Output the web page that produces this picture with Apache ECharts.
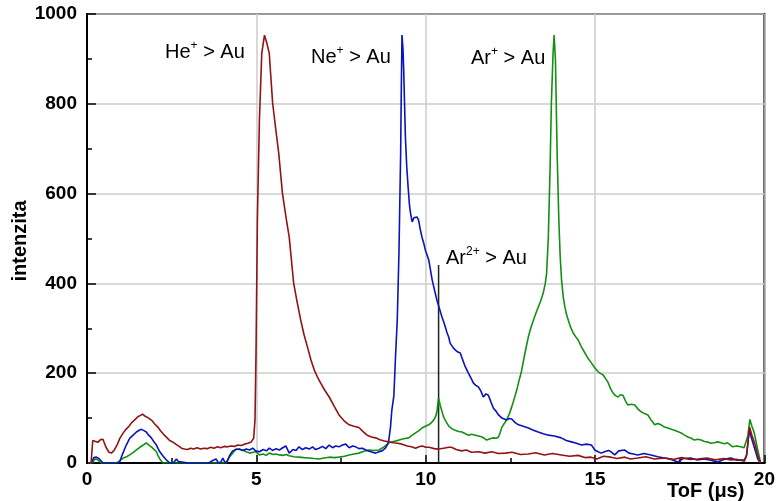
<!DOCTYPE html>
<html>
<head>
<meta charset="utf-8">
<script src="https://cdn.jsdelivr.net/npm/echarts@6/dist/echarts.min.js"></script>
<style>
  html, body { margin: 0; padding: 0; background: #fff; }
  #chart { width: 778px; height: 501px; }
</style>
</head>
<body>
<div id="chart"></div>
<script>
// Time-of-flight spectra: [ToF in µs, intensity]
const heliumOnGold = [[0.03,0],[0.12,0],[0.17,50],[0.25,48],[0.32,46],[0.4,52],[0.47,53],[0.56,35],[0.65,24],[0.72,22],[0.8,28],[0.9,42],[0.97,55],[1.06,66],[1.15,75],[1.24,82],[1.32,90],[1.41,96],[1.5,103],[1.58,106],[1.64,109],[1.72,104],[1.8,101],[1.91,95],[2.0,87],[2.09,80],[2.17,72],[2.26,64],[2.35,57],[2.44,50],[2.53,47],[2.62,42],[2.7,38],[2.79,33],[2.88,31],[2.97,30],[3.06,33],[3.15,31],[3.25,34],[3.35,31],[3.45,33],[3.55,32],[3.65,35],[3.75,33],[3.85,36],[3.95,34],[4.05,37],[4.15,36],[4.25,38],[4.35,37],[4.45,40],[4.55,39],[4.65,42],[4.75,44],[4.85,47],[4.92,55],[4.96,96],[4.99,245],[5.03,541],[5.09,764],[5.16,913],[5.24,953],[5.31,935],[5.38,913],[5.48,802],[5.57,745],[5.66,690],[5.77,601],[5.87,550],[5.97,503],[6.1,401],[6.2,360],[6.31,318],[6.41,285],[6.51,258],[6.61,230],[6.71,207],[6.8,192],[6.9,178],[7.02,162],[7.15,147],[7.3,126],[7.44,107],[7.59,94],[7.74,85],[7.88,82],[8.03,79],[8.15,70],[8.27,62],[8.4,58],[8.52,56],[8.65,52],[8.78,49],[8.91,47],[9.05,45],[9.17,44],[9.3,42],[9.45,38],[9.58,36],[9.7,33],[9.8,36],[9.9,38],[10.0,35],[10.1,35],[10.25,32],[10.38,31],[10.53,33],[10.68,35],[10.76,35],[10.9,30],[11.06,27],[11.2,29],[11.35,24],[11.56,25],[11.75,22],[11.95,25],[12.15,21],[12.35,22],[12.55,24],[12.8,19],[13.03,20],[13.25,23],[13.5,18],[13.75,21],[14.0,18],[14.25,15],[14.5,17],[14.7,12],[14.88,13],[15.05,9],[15.25,15],[15.47,13],[15.65,10],[15.88,13],[16.05,9],[16.26,11],[16.5,14],[16.75,9],[17.06,11],[17.3,8],[17.55,12],[17.8,8],[18.03,9],[18.3,11],[18.55,7],[18.8,10],[19.0,7],[19.2,8],[19.41,4],[19.48,20],[19.56,80],[19.63,62],[19.7,47],[19.8,18],[19.88,0]];

const neonOnGold = [[0.03,0],[0.13,0],[0.2,12],[0.28,13],[0.35,10],[0.38,7],[0.47,0],[0.6,0],[0.8,0],[0.95,0],[1.0,10],[1.06,22],[1.16,40],[1.26,55],[1.36,62],[1.46,69],[1.54,73],[1.61,75],[1.68,72],[1.75,69],[1.82,62],[1.9,56],[1.97,48],[2.05,40],[2.1,32],[2.15,25],[2.25,15],[2.34,7],[2.45,0],[2.55,0],[2.64,9],[2.7,3],[2.74,0],[3.0,0],[3.3,0],[3.6,0],[3.7,5],[3.81,9],[3.88,0],[3.95,2],[4.01,11],[4.08,0],[4.15,5],[4.22,18],[4.3,27],[4.4,30],[4.5,31],[4.6,28],[4.7,31],[4.8,29],[4.89,33],[4.98,27],[5.09,25],[5.2,30],[5.3,27],[5.38,33],[5.48,28],[5.58,32],[5.68,29],[5.78,34],[5.87,38],[5.97,22],[6.08,30],[6.17,28],[6.26,36],[6.36,30],[6.46,34],[6.56,31],[6.66,36],[6.75,30],[6.85,33],[6.95,37],[7.05,32],[7.15,40],[7.25,34],[7.34,38],[7.44,36],[7.54,40],[7.64,42],[7.74,34],[7.84,38],[7.93,36],[8.03,32],[8.13,33],[8.23,29],[8.33,26],[8.43,24],[8.52,22],[8.62,25],[8.71,27],[8.81,33],[8.88,42],[8.91,51],[8.96,80],[9.0,118],[9.06,150],[9.11,240],[9.16,318],[9.21,468],[9.26,690],[9.28,837],[9.3,953],[9.33,920],[9.35,875],[9.4,726],[9.44,660],[9.48,615],[9.52,575],[9.55,557],[9.6,537],[9.65,546],[9.7,550],[9.74,548],[9.79,541],[9.84,520],[9.89,503],[9.94,490],[9.99,474],[10.04,463],[10.09,452],[10.14,430],[10.19,408],[10.26,385],[10.33,363],[10.4,345],[10.48,325],[10.55,310],[10.63,290],[10.68,280],[10.72,267],[10.8,258],[10.87,252],[10.95,247],[11.02,245],[11.1,228],[11.17,214],[11.26,200],[11.33,190],[11.41,178],[11.48,173],[11.56,169],[11.63,160],[11.7,147],[11.78,154],[11.85,151],[11.93,135],[12.0,122],[12.08,115],[12.15,107],[12.25,100],[12.39,96],[12.47,99],[12.54,98],[12.64,90],[12.74,85],[12.88,82],[13.03,78],[13.18,73],[13.32,69],[13.47,65],[13.62,62],[13.8,60],[14.0,56],[14.15,50],[14.3,47],[14.45,44],[14.6,40],[14.75,42],[14.89,40],[14.95,34],[14.99,29],[15.09,25],[15.18,22],[15.28,25],[15.4,28],[15.47,25],[15.58,18],[15.7,27],[15.87,29],[16.0,22],[16.13,20],[16.26,18],[16.45,21],[16.65,18],[16.85,14],[17.05,11],[17.25,8],[17.44,2],[17.6,10],[17.82,11],[18.0,7],[18.23,9],[18.42,6],[18.62,2],[18.8,8],[19.0,11],[19.2,6],[19.4,7],[19.47,15],[19.55,73],[19.62,55],[19.7,35],[19.8,10],[19.88,0]];

const argonOnGold = [[0.03,0],[0.15,0],[0.24,9],[0.3,8],[0.34,7],[0.42,0],[0.5,0],[0.7,0],[0.87,0],[0.95,4],[1.07,11],[1.17,14],[1.26,18],[1.36,23],[1.46,29],[1.56,35],[1.66,40],[1.75,45],[1.83,40],[1.9,36],[1.97,31],[2.05,25],[2.1,16],[2.15,9],[2.24,0],[2.5,0],[3.0,0],[3.5,0],[3.9,0],[4.1,0],[4.2,13],[4.3,22],[4.4,31],[4.5,30],[4.6,29],[4.7,25],[4.8,22],[4.9,24],[4.99,25],[5.09,18],[5.2,20],[5.29,17],[5.38,22],[5.5,19],[5.58,20],[5.68,18],[5.78,17],[5.88,19],[5.97,16],[6.1,14],[6.26,13],[6.4,12],[6.56,11],[6.7,10],[6.85,9],[7.0,11],[7.15,13],[7.3,12],[7.44,13],[7.6,15],[7.74,18],[7.88,20],[8.03,22],[8.18,26],[8.32,29],[8.47,28],[8.62,29],[8.77,36],[8.91,45],[9.05,48],[9.21,51],[9.35,54],[9.5,56],[9.6,62],[9.7,67],[9.8,72],[9.89,78],[9.99,82],[10.09,85],[10.17,90],[10.24,96],[10.3,105],[10.33,114],[10.38,145],[10.43,128],[10.48,115],[10.53,102],[10.6,92],[10.68,82],[10.78,76],[10.87,73],[10.97,70],[11.07,69],[11.17,65],[11.26,62],[11.36,64],[11.46,62],[11.56,60],[11.66,58],[11.73,55],[11.8,51],[11.9,54],[12.0,56],[12.08,55],[12.15,58],[12.2,68],[12.25,80],[12.32,88],[12.39,96],[12.47,110],[12.54,125],[12.62,145],[12.69,163],[12.76,185],[12.83,205],[12.93,245],[13.03,281],[13.1,300],[13.18,318],[13.25,333],[13.32,347],[13.4,362],[13.47,379],[13.53,400],[13.57,423],[13.62,503],[13.67,653],[13.71,802],[13.76,913],[13.79,953],[13.83,898],[13.88,690],[13.93,541],[13.97,460],[14.01,408],[14.06,370],[14.11,347],[14.16,330],[14.21,318],[14.28,302],[14.35,290],[14.42,282],[14.5,274],[14.6,258],[14.7,245],[14.8,232],[14.89,223],[14.99,212],[15.09,203],[15.17,199],[15.24,196],[15.31,188],[15.38,180],[15.46,165],[15.53,156],[15.6,150],[15.68,147],[15.75,152],[15.82,151],[15.9,138],[15.97,129],[16.07,131],[16.17,129],[16.27,120],[16.36,114],[16.46,110],[16.56,107],[16.66,95],[16.76,85],[16.85,88],[16.95,85],[17.05,80],[17.15,78],[17.25,75],[17.34,73],[17.44,70],[17.54,67],[17.64,62],[17.74,58],[17.84,55],[17.93,51],[18.03,53],[18.13,51],[18.23,48],[18.32,47],[18.42,44],[18.52,45],[18.62,47],[18.72,45],[18.82,43],[18.91,45],[19.0,40],[19.06,36],[19.18,38],[19.3,36],[19.4,34],[19.45,33],[19.51,60],[19.57,97],[19.63,82],[19.7,67],[19.8,30],[19.89,0]];

// Expected arrival of Ar2+ ions: marker position and height
const ar2Marker = [[10.38, 0], [10.38, 441]];

const xTicks = [0, 5, 10, 15, 20];
const yTicks = [0, 200, 400, 600, 800, 1000];

const FONT = 'Liberation Sans, Arial, sans-serif';

function peakLabel(x, y, base, sup) {
  return {
    type: 'text', left: x, top: y, z: 100,
    style: {
      text: '{b|' + base + '}{s|' + sup + '}{b| > Au}',
      rich: {
        b: { fontSize: 20, fontFamily: FONT, fill: '#000', lineHeight: 22, verticalAlign: 'bottom' },
        s: { fontSize: 12, fontFamily: FONT, fill: '#000', lineHeight: 22, verticalAlign: 'top' }
      }
    }
  };
}

const chart = echarts.init(document.getElementById('chart'), null, { renderer: 'canvas' });
chart.setOption({
  animation: false,
  backgroundColor: '#fff',
  grid: {
    left: 87, right: 11, top: 14, bottom: 38,
    show: true, borderColor: '#000', borderWidth: 2, backgroundColor: 'transparent'
  },
  xAxis: {
    type: 'value', min: xTicks[0], max: xTicks[xTicks.length - 1], interval: 5,
    axisLine: { show: true, lineStyle: { color: '#000', width: 2 } },
    axisTick: { show: true, inside: true, length: 8, lineStyle: { color: '#000', width: 1.5 } },
    minorTick: { show: true, splitNumber: 2, length: 5, lineStyle: { color: '#000', width: 1.5 } },
    splitLine: { show: true, lineStyle: { color: '#cccccc', width: 1.5 } },
    axisLabel: { fontSize: 19, fontWeight: 'bold', fontFamily: FONT, color: '#000', margin: 7,
                 formatter: v => String(v) }
  },
  yAxis: {
    type: 'value', min: yTicks[0], max: yTicks[yTicks.length - 1], interval: 200,
    axisLine: { show: true, lineStyle: { color: '#000', width: 2 } },
    axisTick: { show: true, inside: true, length: 9, lineStyle: { color: '#000', width: 1.5 } },
    minorTick: { show: true, splitNumber: 2, length: 5, lineStyle: { color: '#000', width: 1.5 } },
    splitLine: { show: true, lineStyle: { color: '#cccccc', width: 1.5 } },
    axisLabel: { fontSize: 19, fontWeight: 'bold', fontFamily: FONT, color: '#000', margin: 10,
                 formatter: v => String(v) }
  },
  graphic: [
    {
      type: 'text', x: 20, y: 241, rotation: Math.PI / 2, z: 100,
      style: { text: 'intenzita', fontSize: 20, fontWeight: 'bold', fontFamily: FONT, fill: '#000', align: 'center', verticalAlign: 'middle' }
    },
    {
      type: 'text', left: 667, top: 481, z: 100,
      style: { text: 'ToF (\u03bcs)', fontSize: 20, fontWeight: 'bold', fontFamily: FONT, fill: '#000' }
    },
    peakLabel(165, 40, 'He', '+'),
    peakLabel(311, 45, 'Ne', '+'),
    peakLabel(471, 46, 'Ar', '+'),
    peakLabel(446, 246, 'Ar', '2+')
  ],
  series: [
    {
      type: 'line', data: ar2Marker, symbol: 'none', silent: true,
      lineStyle: { color: '#222', width: 1.5 }
    },
    {
      name: 'Ar+ > Au', type: 'line', data: argonOnGold, symbol: 'none',
      lineStyle: { color: '#139013', width: 1.6 }
    },
    {
      name: 'Ne+ > Au', type: 'line', data: neonOnGold, symbol: 'none',
      lineStyle: { color: '#0a14b8', width: 1.6 }
    },
    {
      name: 'He+ > Au', type: 'line', data: heliumOnGold, symbol: 'none',
      lineStyle: { color: '#921313', width: 1.6 }
    }
  ]
});
</script>
</body>
</html>
